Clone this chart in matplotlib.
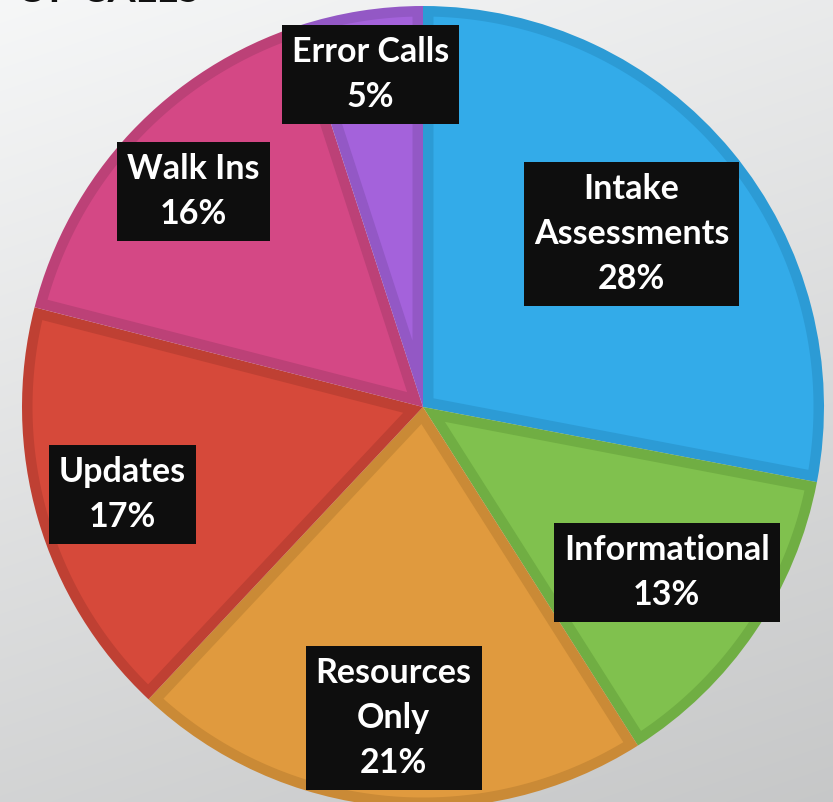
import numpy as np
import matplotlib
matplotlib.use("Agg")
import matplotlib.pyplot as plt
from matplotlib.patches import Polygon, Rectangle

# ---- data ----
categories = ["Intake\nAssessments", "Informational", "Resources\nOnly", "Updates", "Walk Ins", "Error Calls"]
values = [28, 13, 21, 17, 16, 5]
fill_colors = ["#33abe9", "#80c14e", "#e09a3e", "#d6493a", "#d44885", "#a462db"]
edge_colors = ["#2c9bd5", "#70ae43", "#ca8a36", "#bf4033", "#bc4177", "#9358c5"]
label_dist = [0.675, 0.735, 0.78, 0.78, 0.785, 0.84]
title_text = "OF CALLS"

W, H = 833, 802
fig = plt.figure(figsize=(W / 100, H / 100), dpi=100)
ax = fig.add_axes([0, 0, 1, 1])

# background gradient (light top-left, darker towards bottom)
yy, xx = np.mgrid[0:H, 0:W]
base = (247 - 0.0148 * xx - 0.044 * yy) / 255.0
bg = np.clip(np.dstack([base - 0.004, base, base + 0.002]), 0, 1)
ax.imshow(bg, extent=[0, W, 0, H], origin="upper", zorder=0)

cx, cy, R = 423, H - 407, 401
BORDER = 10.5
wedges, _ = ax.pie(values, colors=edge_colors, startangle=90, counterclock=False,
                   center=(cx, cy), radius=R, frame=True,
                   wedgeprops=dict(linewidth=0))


def inset_polygon(w, d):
    t1, t2 = np.deg2rad(w.theta1), np.deg2rad(w.theta2)
    (x0, y0), r = w.center, w.r
    half = (t2 - t1) / 2
    mid = t1 + half
    dv = d / np.sin(half)
    vx, vy = x0 + dv * np.cos(mid), y0 + dv * np.sin(mid)
    ri = r - d
    a = np.arcsin(d / ri)
    th = np.linspace(t1 + a, t2 - a, 200)
    pts = [(vx, vy)] + list(zip(x0 + ri * np.cos(th), y0 + ri * np.sin(th)))
    return pts


for w, fc in zip(wedges, fill_colors):
    w.set_zorder(2)
    ax.add_patch(Polygon(inset_polygon(w, BORDER), closed=True, facecolor=fc,
                         edgecolor="none", zorder=3))

ax.set_xlim(0, W)
ax.set_ylim(0, H)
ax.set_aspect("equal")
ax.axis("off")

texts = []
for w, lab, v, d in zip(wedges, categories, values, label_dist):
    ang = np.deg2rad((w.theta1 + w.theta2) / 2)
    x = cx + R * d * np.cos(ang)
    y = cy + R * d * np.sin(ang)
    t = ax.text(x, y, f"{lab}\n{v}%", ha="center", va="center", color="white",
                fontsize=24.5, fontweight="bold", family="Lato", linespacing=1.5,
                multialignment="center", zorder=6)
    texts.append(t)

fig.canvas.draw()
renderer = fig.canvas.get_renderer()
inv = ax.transData.inverted()
PADX, PADY = 10, 11
for t in texts:
    bb = t.get_window_extent(renderer)
    (x0, y0), (x1, y1) = inv.transform([(bb.x0, bb.y0), (bb.x1, bb.y1)])
    ax.add_patch(Rectangle((x0 - PADX, y0 - PADY), (x1 - x0) + 2 * PADX,
                           (y1 - y0) + 2 * PADY, facecolor="#0e0e0e",
                           edgecolor="none", zorder=5))

# partially visible title at top
ax.text(16, H - 1.5, title_text, ha="left", va="baseline", color="#111111",
        fontsize=29, fontweight="bold", family="Lato", zorder=1)

fig.savefig("out.png", dpi=100)
